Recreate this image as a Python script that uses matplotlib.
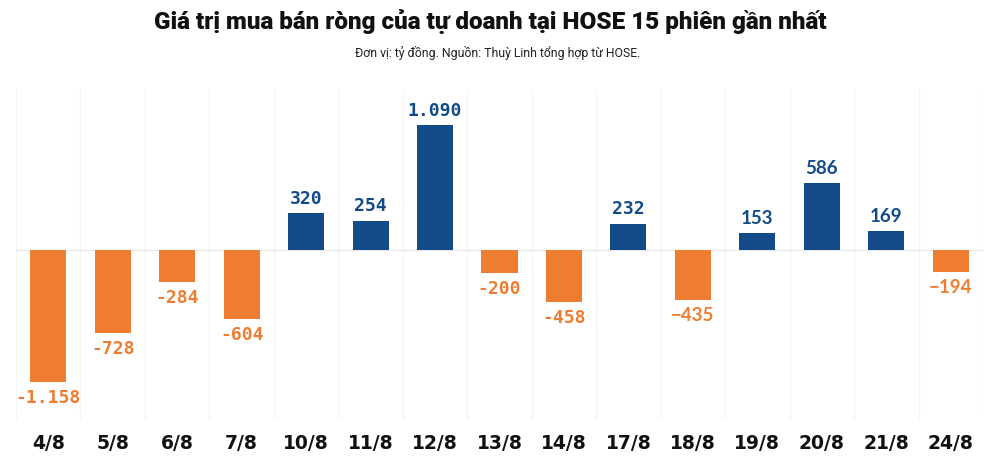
import matplotlib
matplotlib.use("Agg")
import matplotlib.pyplot as plt

categories = ["4/8", "5/8", "6/8", "7/8", "10/8", "11/8", "12/8", "13/8",
              "14/8", "17/8", "18/8", "19/8", "20/8", "21/8", "24/8"]
values = [-1158, -728, -284, -604, 320, 254, 1090, -200,
          -458, 232, -435, 153, 586, 169, -194]

title = "Giá trị mua bán ròng của tự doanh tại HOSE 15 phiên gần nhất"
subtitle = "Đơn vị: tỷ đồng. Nguồn: Thuỳ Linh tổng hợp từ HOSE."

BLUE = "#124a8a"
ORANGE = "#ef7d31"

fig = plt.figure(figsize=(10, 4.66), dpi=100)
ax = fig.add_axes([0.016, 1 - 420 / 466, 0.967, 330 / 466])

x = list(range(len(categories)))
colors = [BLUE if v >= 0 else ORANGE for v in values]
ax.bar(x, values, width=0.56, color=colors, zorder=3)

ax.set_xlim(-0.5, len(categories) - 0.5)
ax.set_ylim(-1487, 1400)

for i in range(len(categories) + 1):
    ax.axvline(i - 0.5, color="#f4f4f4", lw=0.9, zorder=1)
ax.axhline(0, color="#e8e8e8", lw=0.9, zorder=1)

for i, v in enumerate(values):
    mono = i < 10
    txt = f"{v:,}".replace(",", ".")
    if not mono:
        txt = txt.replace("-", "\u2212")
    col = BLUE if v >= 0 else ORANGE
    kw = dict(family="DejaVu Sans Mono", fontsize=13, fontweight="bold") if mono \
        else dict(family="Lato", fontsize=13.5, fontweight="bold")
    if v >= 0:
        ax.annotate(txt, (i, v), xytext=(0, 4), textcoords="offset points",
                    ha="center", va="bottom", color=col, **kw)
    else:
        ax.annotate(txt, (i, v), xytext=(0, -5), textcoords="offset points",
                    ha="center", va="top", color=col, **kw)

ax.set_xticks(x)
ax.set_xticklabels(categories, fontsize=13.5, fontweight="bold",
                   family="DejaVu Sans", color="#111111")
ax.tick_params(axis="x", length=0, pad=10)
ax.set_yticks([])
for s in ax.spines.values():
    s.set_visible(False)

fig.text(0.49, 1 - 21 / 466, title, ha="center", va="center",
         fontsize=17.5, fontweight="heavy", family="Roboto", color="#111111")
fig.text(0.498, 1 - 53 / 466, subtitle, ha="center", va="center",
         fontsize=8.8, family="Roboto", color="#222222")

fig.savefig("out.png", dpi=100)
